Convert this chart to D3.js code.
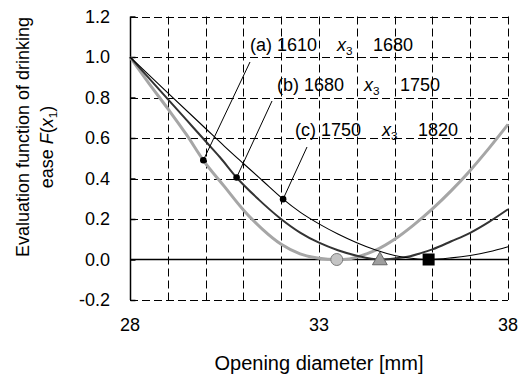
<!DOCTYPE html>
<html>
<head>
<meta charset="utf-8">
<script src="https://cdn.jsdelivr.net/npm/d3@7"></script>
<style>
  html, body { margin: 0; padding: 0; background: #fff; }
  svg { display: block; font-family: Arial, "Liberation Sans", sans-serif; }
</style>
</head>
<body>
<svg id="chart" width="518" height="379"></svg>
<script>
// ---------------- data ----------------
const xTickLabels = [28, 33, 38];
const xGridValues = [29, 30, 31, 32, 33, 34, 35, 36, 37, 38];
const yTickValues = [-0.2, 0.0, 0.2, 0.4, 0.6, 0.8, 1.0, 1.2];

// (a) 1610 – 1680 (thick gray)
const seriesA = [[28,1.0],[28.5,0.87],[29,0.745],[29.5,0.615],[29.94,0.49],[30.5,0.36],[31,0.245],[31.5,0.15],[32,0.075],[32.5,0.028],[33,0.006],[33.47,0],[33.8,0.003],[34.26,0.028],[34.5,0.046],[35,0.10],[35.5,0.17],[36,0.25],[36.5,0.34],[37,0.44],[37.5,0.55],[38,0.667]];
// (b) 1680 – 1750 (dark)
const seriesB = [[28,1.0],[28.5,0.896],[29,0.792],[29.5,0.688],[30,0.584],[30.38,0.505],[30.82,0.405],[31.4,0.297],[31.97,0.204],[32.5,0.133],[33,0.083],[33.5,0.046],[34,0.019],[34.61,0],[35,0.005],[35.41,0.016],[35.67,0.03],[36,0.05],[36.5,0.09],[37,0.132],[37.5,0.186],[38,0.248]];
// (c) 1750 – 1820 (thin black)
const seriesC = [[28,1.0],[29,0.823],[30,0.647],[30.5,0.559],[31,0.474],[31.5,0.39],[32.05,0.298],[32.5,0.234],[33,0.176],[33.5,0.126],[34,0.083],[34.5,0.047],[35,0.02],[35.5,0.005],[35.9,0],[36.5,0.008],[37,0.02],[37.5,0.038],[38,0.063]];

const seriesNames = ["(a)", "(b)", "(c)"];
const rangeLow = [1610, 1680, 1750];
const rangeHigh = [1680, 1750, 1820];
const dotX = [29.94, 30.82, 32.05];
const dotY = [0.49, 0.405, 0.298];
const minimumX = [33.47, 34.61, 35.9];

// ---------------- layout ----------------
const svg = d3.select("#chart");
const x = d3.scaleLinear().domain([28, 38]).range([130, 508]);
const y = d3.scaleLinear().domain([-0.2, 1.2]).range([300, 16.5]);
const FONT = 18;
const labelPos = [ {x: 250, y: 51}, {x: 277, y: 91}, {x: 295, y: 136} ]; // text start, baseline
const leaderEnd = [ {x: 250, y: 62}, {x: 272, y: 101}, {x: 307, y: 147} ];

// grid (dashed)
const grid = svg.append("g").attr("stroke", "#000").attr("stroke-width", 1)
  .attr("stroke-dasharray", "8,4").attr("fill", "none");
grid.selectAll("line.v").data(xGridValues).enter().append("line")
  .attr("x1", d => Math.round(x(d)) + 0.5).attr("x2", d => Math.round(x(d)) + 0.5)
  .attr("y1", y(1.2)).attr("y2", y(-0.2));
grid.selectAll("line.h").data(yTickValues.filter(v => Math.abs(v) > 1e-9)).enter().append("line")
  .attr("x1", x(28)).attr("x2", x(38))
  .attr("y1", d => Math.round(y(d)) + 0.5).attr("y2", d => Math.round(y(d)) + 0.5);

// y axis (solid, inward ticks)
const yAxis = d3.axisRight(y).tickValues(yTickValues).tickSize(5).tickFormat("");
const yg = svg.append("g").attr("transform", `translate(${Math.round(x(28)) + 0.5},0)`).call(yAxis);
yg.select(".domain").attr("stroke", "#000").attr("stroke-width", 1.5).attr("d", `M0,${y(1.2)}V${y(-0.2)}`);
yg.selectAll(".tick line").attr("stroke", "#000").attr("stroke-width", 1.5);

// zero line
svg.append("line").attr("x1", x(28)).attr("x2", x(38))
  .attr("y1", y(0)).attr("y2", y(0)).attr("stroke", "#000").attr("stroke-width", 1.5);

// y tick labels
svg.append("g").selectAll("text").data(yTickValues).enter().append("text")
  .attr("x", 110).attr("y", d => y(d)).attr("dy", "0.35em")
  .attr("text-anchor", "end").attr("font-size", FONT).attr("fill", "#000")
  .text(d => d.toFixed(1));

// x tick labels
svg.append("g").selectAll("text").data(xTickLabels).enter().append("text")
  .attr("x", d => x(d)).attr("y", 331)
  .attr("text-anchor", "middle").attr("font-size", FONT).attr("fill", "#000")
  .text(d => d);

// x axis title
svg.append("text").attr("x", x(33)).attr("y", 370).attr("text-anchor", "middle")
  .attr("font-size", 20).text("Opening diameter [mm]");

// y axis title
const yt = svg.append("text").attr("transform", "rotate(-90)").attr("text-anchor", "middle")
  .attr("font-size", FONT);
yt.append("tspan").attr("x", -137).attr("y", 29).text("Evaluation function of drinking");
const yt2 = svg.append("text").attr("transform", "rotate(-90)").attr("text-anchor", "middle")
  .attr("font-size", FONT);
yt2.append("tspan").attr("x", -147).attr("y", 53).text("ease ");
yt2.append("tspan").attr("font-style", "italic").text(" F");
yt2.append("tspan").text("(");
yt2.append("tspan").attr("font-style", "italic").text("x");
yt2.append("tspan").attr("font-size", FONT * 0.65).attr("dy", 4).text("1");
yt2.append("tspan").attr("dy", -4).text(")");

// curves
const line = d3.line().x(d => x(d[0])).y(d => y(d[1])).curve(d3.curveMonotoneX);
const styles = [
  {data: seriesA, stroke: "#a6a6a6", w: 3},
  {data: seriesB, stroke: "#333333", w: 2},
  {data: seriesC, stroke: "#000000", w: 1.1}
];
svg.append("g").selectAll("path").data(styles).enter().append("path")
  .attr("d", d => line(d.data)).attr("fill", "none")
  .attr("stroke", d => d.stroke).attr("stroke-width", d => d.w);

// leader lines and dots
svg.append("g").selectAll("line").data(dotX).enter().append("line")
  .attr("x1", (d, i) => x(d)).attr("y1", (d, i) => y(dotY[i]))
  .attr("x2", (d, i) => leaderEnd[i].x).attr("y2", (d, i) => leaderEnd[i].y)
  .attr("stroke", "#000").attr("stroke-width", 1);
svg.append("g").selectAll("circle").data(dotX).enter().append("circle")
  .attr("cx", d => x(d)).attr("cy", (d, i) => y(dotY[i])).attr("r", 3.3).attr("fill", "#000");

// labels
labelPos.forEach((p, i) => {
  const g = svg.append("g").attr("font-size", FONT).attr("fill", "#000");
  g.append("text").attr("x", p.x).attr("y", p.y).text(`${seriesNames[i]} ${rangeLow[i]}`);
  const t = g.append("text").attr("x", p.x + 87).attr("y", p.y);
  t.append("tspan").attr("font-style", "italic").text("x");
  t.append("tspan").attr("font-size", FONT * 0.65).attr("dy", 4).text("3");
  g.append("text").attr("x", p.x + 123).attr("y", p.y).text(`${rangeHigh[i]}`);
});

// minimum markers
const mk = svg.append("g");
mk.append("circle").attr("cx", x(minimumX[0])).attr("cy", y(0)).attr("r", 6)
  .attr("fill", "#c4c4c4").attr("stroke", "#7a7a7a").attr("stroke-width", 1);
mk.append("path").attr("d", d3.symbol(d3.symbolTriangle, 95)())
  .attr("transform", `translate(${x(minimumX[1])},${y(0) + 1})`)
  .attr("fill", "#9e9e9e").attr("stroke", "#666").attr("stroke-width", 1);
mk.append("rect").attr("x", x(minimumX[2]) - 6).attr("y", y(0) - 6).attr("width", 12).attr("height", 12)
  .attr("fill", "#000");
</script>
</body>
</html>
